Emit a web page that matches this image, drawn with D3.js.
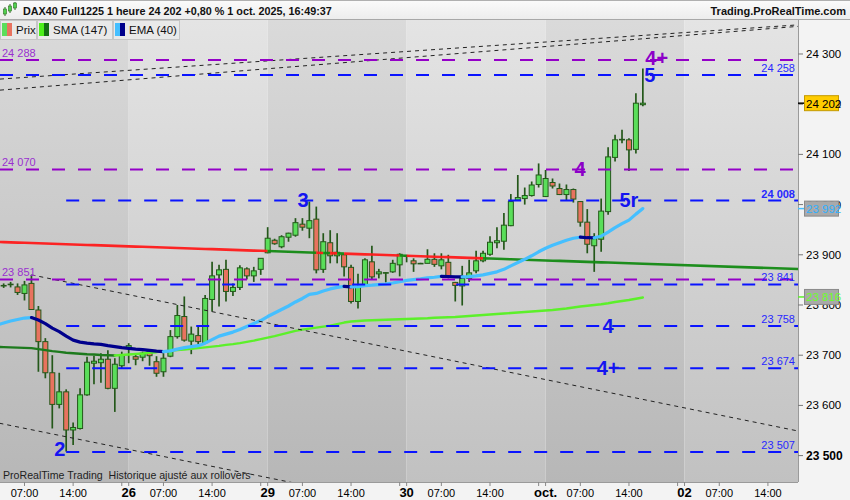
<!DOCTYPE html>
<html><head><meta charset="utf-8">
<script src="https://cdn.jsdelivr.net/npm/d3@7"></script>
<style>
html,body{margin:0;padding:0;background:#fff;}
svg{display:block;font-family:"Liberation Sans",Arial,sans-serif;}
</style></head><body>
<svg id="c" width="850" height="500"></svg>
<script>
// ---------- DATA ----------
const opens  = [23835,23840,23838,23841,23836,23823,23843,23790,23727,23665,23602,23627,23551,23554,23621,23684,23685,23692,23634,23679,
                23715,23697,23696,23708,23687,23667,23698,23737,23777,23728,23739,23725,23811,23860,23871,23827,23835,23872,23858,23871,
                23904,23929,23916,23935,23939,23961,23953,23971,23871,23924,23898,23900,23875,23807,23840,23886,23862,23864,23866,23880,
                23898,23888,23883,23883,23891,23878,23885,23845,23838,23853,23868,23888,23901,23924,23927,23958,24009,24012,24018,24040,
                24016,24044,24032,24020,24030,24006,23965,23918,23931,23986,24094,24129,24129,24110,24199];
const highs  = [23845,23846,23843,23846,23843,23848,23860,23798,23734,23700,23665,23632,23566,23634,23697,23699,23704,23710,23694,23707,
                23724,23704,23707,23712,23698,23704,23750,23800,23817,23757,23758,23820,23886,23880,23890,23843,23879,23875,23876,23893,
                23955,23932,23939,23944,23973,23973,24006,23996,23943,23949,23943,23900,23880,23862,23893,23918,23872,23865,23890,23903,
                23900,23893,23884,23911,23903,23903,23900,23846,23878,23890,23908,23908,23937,23955,23983,24021,24059,24034,24046,24082,
                24069,24052,24042,24040,24032,24007,23991,23943,24012,24114,24139,24149,24132,24222,24271];
const lows   = [23830,23834,23834,23835,23820,23809,23790,23667,23654,23554,23594,23508,23521,23552,23619,23642,23645,23632,23587,23674,
                23684,23680,23688,23679,23657,23657,23696,23733,23727,23702,23720,23723,23787,23797,23807,23818,23830,23851,23846,23860,
                23903,23920,23913,23926,23936,23948,23933,23863,23864,23883,23883,23857,23803,23793,23838,23851,23853,23845,23864,23857,
                23885,23866,23882,23883,23876,23871,23853,23807,23799,23846,23863,23885,23898,23913,23910,23957,24008,24000,24016,24034,
                24015,24032,24019,24009,24004,23956,23903,23866,23906,23980,24086,24122,24067,24102,24196];
const closes = [23840,23838,23839,23841.5,23825,23840,23791,23727,23665,23602,23627,23551,23556,23621,23686,23688,23692,23634,23682,23700,
                23719,23692,23704,23699,23664,23694,23737,23779,23730,23742,23727,23813,23858,23870,23827,23835,23874,23858,23868,23893,
                23933,23922,23936,23943,23964,23955,23968,23870,23926,23898,23905,23876,23807,23835,23890,23856,23866,23864.5,23883,23901,
                23897,23882,23883,23891,23881,23890,23857,23839,23853,23864,23888,23903,23925,23928,23959,24006,24014,24018,24039,24059,
                24052,24037,24020,24030,24011,23965,23921,23933,23987,24095,24129,24130,24109,24202,24202];
const ema40  = [23756,23760,23764,23768,23771,23774,23775,23770,23763,23754,23747,23738,23730,23726,23724,23722.5,23721.5,23719,23717,23715,
                23713.5,23712,23711,23709.5,23708,23707,23708.5,23712,23715,23717,23719,23724,23731,23738,23742,23746,23751,23757,23763,23769,
                23777,23784,23791,23798,23806,23813,23821,23823,23828,23832,23835,23837,23836,23836.3,23838.5,23839.4,23840.7,23841.8,23843.8,23846.4,
                23848.9,23850.5,23852,23854,23855.3,23857,23856.8,23856.1,23856,23856.4,23858,23860,23863,23866,23871,23878,23884.5,23891,23898,23906,
                23913,23919,23924,23929,23933,23935,23934,23933.9,23937,23945,23954,23962,23969,23981,23992];
const sma147 = [23717,23716.5,23716,23715.5,23715,23714.5,23714,23712,23710,23708,23706.5,23705,23704,23703,23702,23701.5,23700.5,23700,23699.5,23700.5,
                23701.5,23702.5,23703.5,23705,23706,23707.5,23708.5,23710,23711,23712.5,23714,23715.5,23717,23718.5,23720.5,23722,23724,23726.5,23729,23732,
                23735,23738,23741.5,23745,23748.5,23751,23753,23755,23757,23759,23762,23765,23767,23768,23769,23769.5,23770,23770.5,23771,23771.5,
                23772,23772.5,23773,23773.5,23774.5,23775,23775.5,23776,23777,23778,23779,23780,23781,23782,23783,23784,23785,23786,23787,23788,
                23789,23790,23791.5,23793,23795,23797,23798.5,23800,23801.5,23803.5,23806,23808,23810,23812.5,23815];
// trading days (index of the 02:00 candle) and their labels
const dayStarts = [0,20,40,60,80,100];
const dayLabels = ["25","26","29","30","oct.","02"];
const hourOffsets = [5,12];
const hourLabels = ["07:00","14:00"];
const yTicks = [23500,23600,23700,23800,23900,24000,24100,24200,24300];
// horizontal levels
const purpleLevels = [24288,24070,23851];
const blueLevels   = [24258,24008,23841,23758,23674,23507];
const blueStarts   = [0,11,11,11,11,11];
const blueBold     = [false,true,false,false,false,false];
// red/green line (time index, price)
const trendG = [1.474,116.33];
const trendV = [23925.5,23871.7];
// black dashed channel lines [g1,v1,g2,v2]
const channelLines = [[6,23860,116.33,23549],[-2,23574,60,23400],[1.474,24250,116.33,24358],[1.474,24228,116.33,24355]];
// wave labels
const waveText  = ["2","3","4","5r","4+","5","4","4+"];
const waveG     = [10.1,45.1,84.95,92.0,96.0,95.0,89.0,89.0];
const waveV     = [23499,23996,24057,23995,24278,24244,23744,23661];
const waveColor = ["blue","blue","purple","blue","purple","blue","blue","blue"];
// last-value badges
const badgeVals = [24202,23992,23816];

// ---------- CHART ----------
const svg = d3.select("#c");
const PL=0, PR=798, PT=20, PB=482;
const x = d3.scaleLinear().domain([1.474,116.33]).range([PL,PR]);
const y = d3.scaleLinear().domain([23447.4,24367.7]).range([PB,PT]);
const PURPLE="#9400c8";
const defs = svg.append("defs");
function grad(id,c1,c2){
  const g=defs.append("linearGradient").attr("id",id).attr("x1",0).attr("y1",0).attr("x2",0).attr("y2",1);
  g.append("stop").attr("offset","0%").attr("stop-color",c1);
  g.append("stop").attr("offset","100%").attr("stop-color",c2);
}
grad("gDark","#dadada","#b7b7b7");
grad("gLight","#e4e4e4","#c1c1c1");
grad("gTitle","#fbfbfb","#ececec");
defs.append("clipPath").attr("id","clip").append("rect").attr("x",PL).attr("y",PT).attr("width",PR-PL).attr("height",PB-PT);

// title bar
svg.append("rect").attr("x",0).attr("y",0).attr("width",850).attr("height",20).attr("fill","url(#gTitle)");
svg.append("line").attr("x1",0).attr("x2",850).attr("y1",0.5).attr("y2",0.5).attr("stroke","#b0b0b0");
svg.append("line").attr("x1",0).attr("x2",850).attr("y1",19.5).attr("y2",19.5).attr("stroke","#a8a8a8");

const plot = svg.append("g").attr("clip-path","url(#clip)");
// day bands
dayStarts.forEach((d,i)=>{
  const x0 = i===0 ? x(d-20) : x(d);
  const x1 = i<dayStarts.length-1 ? x(dayStarts[i+1]) : PR+5;
  plot.append("rect").attr("x",x0).attr("y",PT).attr("width",x1-x0).attr("height",PB-PT)
      .attr("fill", i%2===0 ? "url(#gDark)" : "url(#gLight)");
});

// candles
const idx = d3.range(closes.length);
const cg = plot.append("g");
idx.forEach(i=>{
  const xc = x(i);
  cg.append("line").attr("x1",xc).attr("x2",xc).attr("y1",y(highs[i])).attr("y2",y(lows[i]))
    .attr("stroke","#24581a").attr("stroke-width",1.7);
  const up = closes[i] >= opens[i];
  const top = y(Math.max(opens[i],closes[i])), bot = y(Math.min(opens[i],closes[i]));
  cg.append("rect").attr("x",xc-2.5).attr("width",5).attr("y",top).attr("height",Math.max(0.6,bot-top))
    .attr("fill", up ? "#5ade5a" : "#e8735f").attr("stroke","#24581a").attr("stroke-width",1);
});

// colored trend line (green when close above, red when below)
const trendVal = g => trendV[0] + (g-trendG[0])*(trendV[1]-trendV[0])/(trendG[1]-trendG[0]);
const tline = d3.line().x(d=>x(d)).y(d=>y(trendVal(d)));
let runs=[]; let cur=null;
for(let i=0;i<closes.length;i++){
  const col = closes[i] > trendVal(i) ? "#138a13" : "#ff1a1a";
  const g1 = i===closes.length-1 ? 117 : i+1;
  if(cur && cur.col===col){ cur.pts.push(g1); }
  else { cur={col, pts:[i===0?-1:i, g1]}; runs.push(cur); }
}
runs.forEach(r=>plot.append("path").attr("d",tline(r.pts)).attr("fill","none")
  .attr("stroke",r.col).attr("stroke-width",2.6).attr("stroke-opacity",0.95));

// slope-colored indicator lines
function slopeLine(vals, upCol, downCol, w){
  const l = d3.line().x(d=>x(d[0])).y(d=>y(d[1]));
  let rs=[]; let c=null;
  for(let i=1;i<vals.length;i++){
    const col = vals[i] >= vals[i-1] ? upCol : downCol;
    if(c && c.col===col){ c.pts.push([i,vals[i]]); }
    else { c={col, pts:[[i-1,vals[i-1]],[i,vals[i]]]}; rs.push(c); }
  }
  rs.forEach(r=>plot.append("path").attr("d",l(r.pts)).attr("fill","none").attr("stroke",r.col)
     .attr("stroke-width",w).attr("stroke-linecap","round").attr("stroke-linejoin","round"));
}
slopeLine(sma147, "#5cf02a", "#1d7a1d", 2.4);
slopeLine(ema40, "#45bfff", "#00008c", 3.2);

// channel dashed lines
channelLines.forEach(c=>{
  plot.append("line").attr("x1",x(c[0])).attr("y1",y(c[1])).attr("x2",x(c[2])).attr("y2",y(c[3]))
    .attr("stroke","#222").attr("stroke-width",1).attr("stroke-dasharray","4,4");
});

const fmt = v => d3.format(",")(v).replace(","," ");
// level lines
purpleLevels.forEach(v=>{
  plot.append("line").attr("x1",PL).attr("x2",PR).attr("y1",y(v)).attr("y2",y(v))
    .attr("stroke",PURPLE).attr("stroke-width",2).attr("stroke-dasharray","13,13");
  plot.append("text").attr("x",2).attr("y",y(v)-3).attr("font-size",11).attr("fill","#9a30d0").text(fmt(v));
});
blueLevels.forEach((v,i)=>{
  plot.append("line").attr("x1",blueStarts[i]===0?PL:x(blueStarts[i])).attr("x2",PR).attr("y1",y(v)).attr("y2",y(v))
    .attr("stroke","#0a14ff").attr("stroke-width",2).attr("stroke-dasharray","13,13");
  plot.append("text").attr("x",795).attr("y",y(v)-3).attr("text-anchor","end").attr("font-size",11)
    .attr("font-weight",blueBold[i]?"bold":"normal").attr("fill","#2828ff").text(fmt(v));
});

// wave labels
waveText.forEach((t,i)=>{
  plot.append("text").attr("x",x(waveG[i])).attr("y",y(waveV[i])).attr("text-anchor","middle")
    .attr("font-size",20).attr("font-weight","bold").attr("fill",waveColor[i]==="blue"?"#1414f0":"#8c00c8").text(t);
});

// watermark
plot.append("text").attr("x",3).attr("y",479).attr("font-size",10.6).attr("fill","#1e1e1e")
  .style("white-space","pre").text("ProRealTime Trading  Historique ajusté aux rollovers");

// legend
const leg = svg.append("g");
const legItems = [["Prix","#5ade5a","#e8735f",0,37],["SMA (147)","#4cf01a","#137013",37,113],["EMA (40)","#45bfff","#00008c",113,180]];
legItems.forEach(l=>{
  leg.append("rect").attr("x",l[3]+0.5).attr("y",20.5).attr("width",l[4]-l[3]-1).attr("height",19).attr("fill","#e9e9e9").attr("stroke","#c6c6c6");
  leg.append("rect").attr("x",l[3]+2).attr("y",23).attr("width",5).attr("height",13).attr("fill",l[1]);
  leg.append("rect").attr("x",l[3]+7).attr("y",23).attr("width",5).attr("height",13).attr("fill",l[2]);
  leg.append("text").attr("x",l[3]+16).attr("y",34).attr("font-size",11.5).attr("fill","#111").text(l[0]);
});

// title
const icon = svg.append("g");
[[5,9,14,7,16],[10,6,11,4,13],[15,3,8,2,10]].forEach(c=>{
  icon.append("line").attr("x1",c[0]).attr("x2",c[0]).attr("y1",c[3]).attr("y2",c[4]).attr("stroke","#2d6b1e").attr("stroke-width",1);
  icon.append("rect").attr("x",c[0]-1.5).attr("y",c[1]).attr("width",3).attr("height",c[2]-c[1]).attr("fill","#4fd24f").attr("stroke","#2d6b1e").attr("stroke-width",0.6);
});
svg.append("text").attr("x",23).attr("y",15).attr("font-size",10.8).attr("font-weight","bold").attr("fill","#111")
  .text("DAX40 Full1225 1 heure 24 202 +0,80 % 1 oct. 2025, 16:49:37");
svg.append("text").attr("x",846).attr("y",15).attr("text-anchor","end").attr("font-size",11).attr("font-weight","bold").attr("fill","#111")
  .text("Trading.ProRealTime.com");

// right axis
svg.append("rect").attr("x",PR).attr("y",20).attr("width",850-PR).attr("height",480).attr("fill","#f3f3f3");
svg.append("rect").attr("x",0).attr("y",PB).attr("width",PR).attr("height",500-PB).attr("fill","#f3f3f3");
svg.append("line").attr("x1",PR+0.5).attr("x2",PR+0.5).attr("y1",20).attr("y2",PB).attr("stroke","#9a9a9a");
svg.append("line").attr("x1",0).attr("x2",PR).attr("y1",PB+0.5).attr("y2",PB+0.5).attr("stroke","#9a9a9a");
yTicks.forEach(v=>{
  svg.append("line").attr("x1",PR).attr("x2",PR+5).attr("y1",y(v)).attr("y2",y(v)).attr("stroke","#777");
  svg.append("text").attr("x",806).attr("y",y(v)+4).attr("font-size",v===23500?12:11.5)
    .attr("font-weight",v===23500?"bold":"normal").attr("fill","#000").text(fmt(v));
});
// badges
const bFill=["#ffcc00","#a9a9a9","#a9a9a9"], bText=["#000","#2fb0ff","#6cff2a"], bConn=["#000","#45bfff","#5cf02a"];
badgeVals.forEach((v,i)=>{
  const yy=y(v);
  svg.append("line").attr("x1",PR).attr("x2",805).attr("y1",yy).attr("y2",yy).attr("stroke",bConn[i]).attr("stroke-width",1.5);
  svg.append("rect").attr("x",804.5).attr("y",yy-7.5).attr("width",34).attr("height",15).attr("fill",bFill[i])
    .attr("stroke",i===0?"#c49a00":"#8a8a8a");
  svg.append("text").attr("x",806).attr("y",yy+4.5).attr("font-size",11.5).attr("fill",bText[i]).text(fmt(v));
});

// bottom axis
dayStarts.forEach((d,i)=>{
  const ticks=[[d,dayLabels[i],true],[d+19,null,false]];
  hourOffsets.forEach((o,j)=>ticks.push([d+o,hourLabels[j],false]));
  ticks.forEach(t=>{
    const xx=x(t[0]); if(xx<0||xx>PR) return;
    svg.append("line").attr("x1",xx).attr("x2",xx).attr("y1",PB).attr("y2",PB+4).attr("stroke","#888");
    if(t[1]) svg.append("text").attr("x",xx).attr("y",497).attr("text-anchor","middle")
      .attr("font-size",t[2]?13:11).attr("font-weight",t[2]?"bold":"normal").attr("fill","#000").text(t[1]);
  });
});
</script></body></html>
